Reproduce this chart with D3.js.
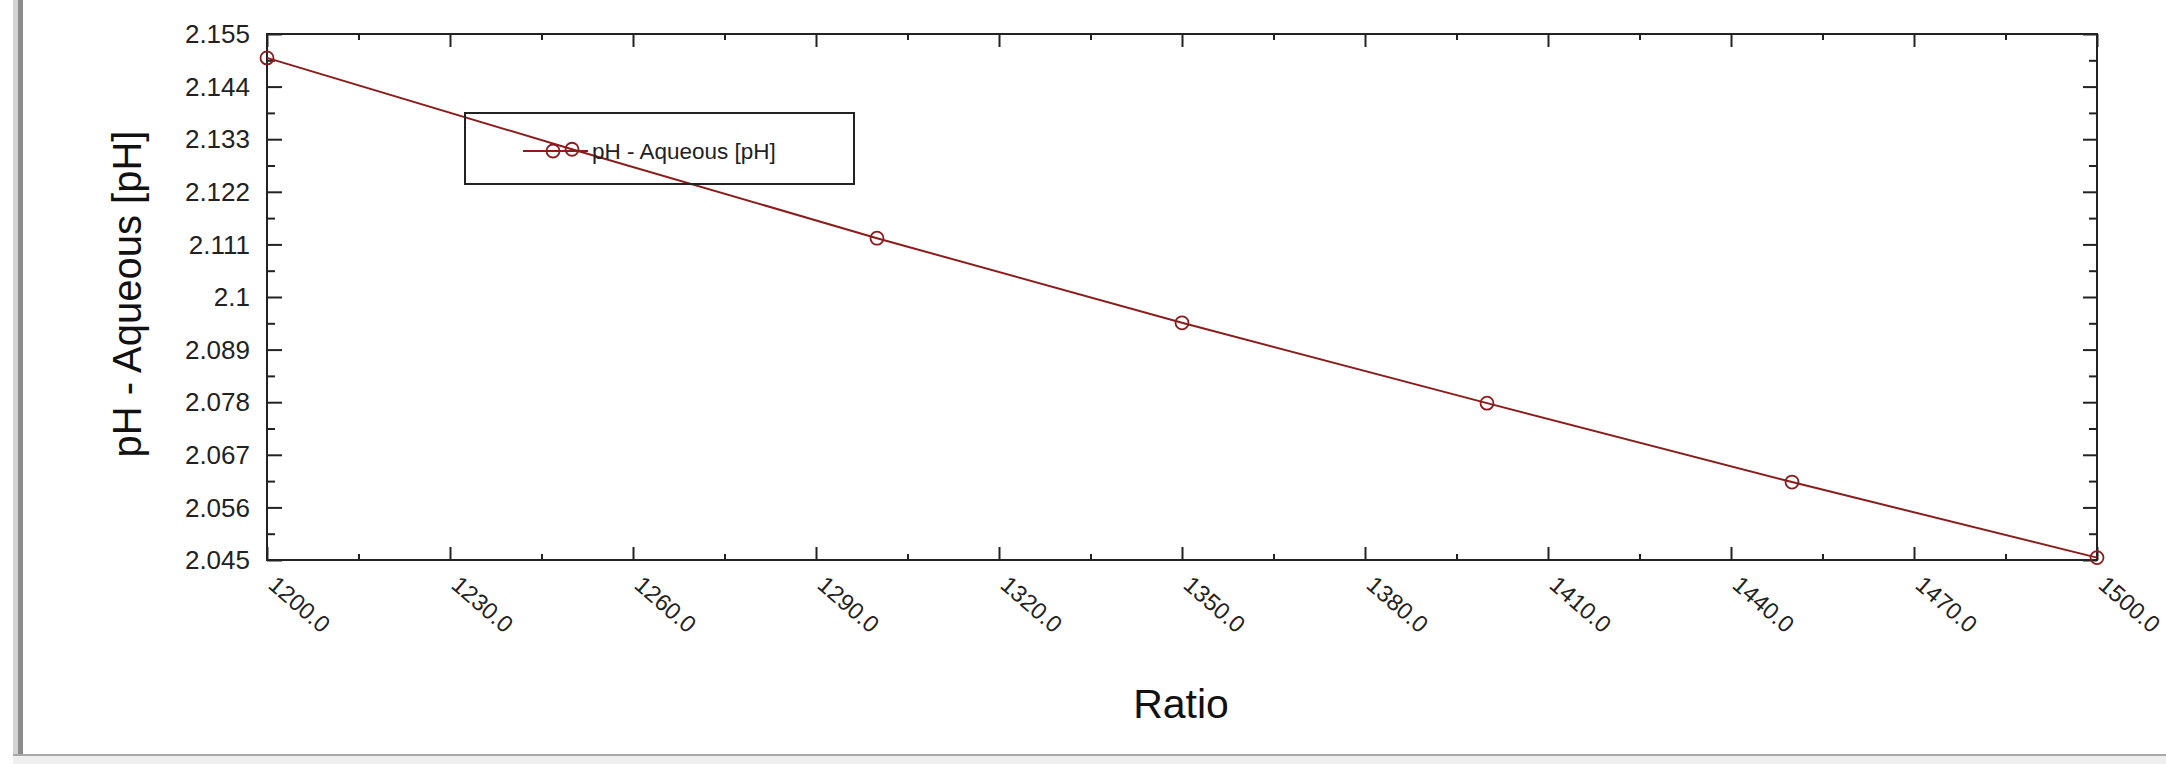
<!DOCTYPE html>
<html>
<head>
<meta charset="utf-8">
<script src="https://cdn.jsdelivr.net/npm/d3@7"></script>
<style>
  body { margin: 0; background: #fff; }
  svg { display: block; font-family: "Liberation Sans", Arial, sans-serif; }
</style>
</head>
<body>
<script>
// data
const ratio = [1200, 1250, 1300, 1350, 1400, 1450, 1500];
const phAqueous = [2.1500, 2.1309, 2.1123, 2.0946, 2.0778, 2.0613, 2.0455];

const yTicks = [2.045, 2.056, 2.067, 2.078, 2.089, 2.1, 2.111, 2.122, 2.133, 2.144, 2.155];
const yTickLabels = ["2.045", "2.056", "2.067", "2.078", "2.089", "2.1", "2.111", "2.122", "2.133", "2.144", "2.155"];
const xTicks = [1200, 1230, 1260, 1290, 1320, 1350, 1380, 1410, 1440, 1470, 1500];
const xTickLabels = ["1200.0", "1230.0", "1260.0", "1290.0", "1320.0", "1350.0", "1380.0", "1410.0", "1440.0", "1470.0", "1500.0"];
const seriesName = "pH - Aqueous [pH]";

const W = 2166, H = 764;
const margin = {top: 34, right: 69, bottom: 204, left: 267};
const width = W - margin.left - margin.right,
      height = H - margin.top - margin.bottom;
const lineColor = "#8a1c1c";

const svg = d3.select("body").append("svg")
    .attr("width", W)
    .attr("height", H);

// window frame (left bar + bottom edge)
svg.append("rect").attr("x", 13).attr("y", 0).attr("width", 5).attr("height", 756).attr("fill", "#d4d4d4");
svg.append("rect").attr("x", 18).attr("y", 0).attr("width", 5).attr("height", 756).attr("fill", "#8c8c8c");
svg.append("rect").attr("x", 13).attr("y", 754).attr("width", W).attr("height", 2).attr("fill", "#a8a8a8");
svg.append("rect").attr("x", 13).attr("y", 756).attr("width", W).attr("height", 8).attr("fill", "#efefef");

const g = svg.append("g")
    .attr("transform", `translate(${margin.left},${margin.top})`);

const x = d3.scaleLinear()
    .domain([1200, 1500])
    .range([0, width]);

const y = d3.scaleLinear()
    .domain([2.045, 2.155])
    .range([height, 0]);

const xMinor = d3.range(1215, 1500, 30);
const yMinor = yTicks.slice(0, -1).map(v => v + 0.0055);

// inside ticks on all four sides
g.append("g")
    .attr("transform", `translate(0,${height})`)
    .call(d3.axisBottom(x).tickValues(xTicks).tickSize(-13).tickFormat(""))
    .call(a => a.select(".domain").remove());
g.append("g")
    .attr("transform", `translate(0,${height})`)
    .call(d3.axisBottom(x).tickValues(xMinor).tickSize(-6).tickFormat(""))
    .call(a => a.select(".domain").remove());
g.append("g")
    .call(d3.axisTop(x).tickValues(xTicks).tickSize(-13).tickFormat(""))
    .call(a => a.select(".domain").remove());
g.append("g")
    .call(d3.axisTop(x).tickValues(xMinor).tickSize(-6).tickFormat(""))
    .call(a => a.select(".domain").remove());
g.append("g")
    .call(d3.axisLeft(y).tickValues(yTicks).tickSize(-15).tickFormat(""))
    .call(a => a.select(".domain").remove());
g.append("g")
    .call(d3.axisLeft(y).tickValues(yMinor).tickSize(-8).tickFormat(""))
    .call(a => a.select(".domain").remove());
g.append("g")
    .attr("transform", `translate(${width},0)`)
    .call(d3.axisRight(y).tickValues(yTicks).tickSize(-14).tickFormat(""))
    .call(a => a.select(".domain").remove());
g.append("g")
    .attr("transform", `translate(${width},0)`)
    .call(d3.axisRight(y).tickValues(yMinor).tickSize(-8).tickFormat(""))
    .call(a => a.select(".domain").remove());

g.selectAll(".tick line")
    .attr("stroke", "#222")
    .attr("stroke-width", 2);

// frame
g.append("rect")
    .attr("width", width)
    .attr("height", height)
    .attr("fill", "none")
    .attr("stroke", "#222")
    .attr("stroke-width", 2);

// y tick labels
g.selectAll(".ylab")
    .data(yTicks)
    .enter().append("text")
    .attr("x", -17)
    .attr("y", d => y(d))
    .attr("dy", "0.35em")
    .attr("text-anchor", "end")
    .style("font-size", "26px")
    .attr("fill", "#222")
    .text((d, i) => yTickLabels[i]);

// x tick labels, slanted
g.selectAll(".xlab")
    .data(xTicks)
    .enter().append("text")
    .attr("transform", d => `translate(${x(d)},${height + 27}) rotate(41)`)
    .attr("text-anchor", "start")
    .style("font-size", "23.5px")
    .attr("fill", "#222")
    .text((d, i) => xTickLabels[i]);

// axis titles
svg.append("text")
    .attr("x", 1181)
    .attr("y", 718)
    .attr("text-anchor", "middle")
    .style("font-size", "41px")
    .attr("fill", "#111")
    .text("Ratio");

svg.append("text")
    .attr("transform", `translate(141,294) rotate(-90)`)
    .attr("text-anchor", "middle")
    .style("font-size", "40px")
    .attr("fill", "#111")
    .text(seriesName);

// series
const line = d3.line()
    .x((d, i) => x(ratio[i]))
    .y(d => y(d));

g.append("path")
    .datum(phAqueous)
    .attr("fill", "none")
    .attr("stroke", lineColor)
    .attr("stroke-width", 2)
    .attr("d", line);

g.selectAll(".pt")
    .data(phAqueous)
    .enter().append("circle")
    .attr("cx", (d, i) => x(ratio[i]))
    .attr("cy", d => y(d))
    .attr("r", 6.5)
    .attr("fill", "none")
    .attr("stroke", lineColor)
    .attr("stroke-width", 1.8);

// legend
const lg = svg.append("g").attr("transform", "translate(465,113)");
lg.append("rect")
    .attr("width", 389)
    .attr("height", 71)
    .attr("fill", "none")
    .attr("stroke", "#222")
    .attr("stroke-width", 2);
lg.append("line")
    .attr("x1", 58).attr("x2", 123)
    .attr("y1", 38).attr("y2", 38)
    .attr("stroke", lineColor)
    .attr("stroke-width", 2);
lg.append("circle")
    .attr("cx", 88).attr("cy", 38).attr("r", 6.5)
    .attr("fill", "none")
    .attr("stroke", lineColor)
    .attr("stroke-width", 1.8);
lg.append("text")
    .attr("x", 127).attr("y", 38)
    .attr("dy", "0.35em")
    .style("font-size", "22.5px")
    .attr("fill", "#222")
    .text(seriesName);
</script>
</body>
</html>
